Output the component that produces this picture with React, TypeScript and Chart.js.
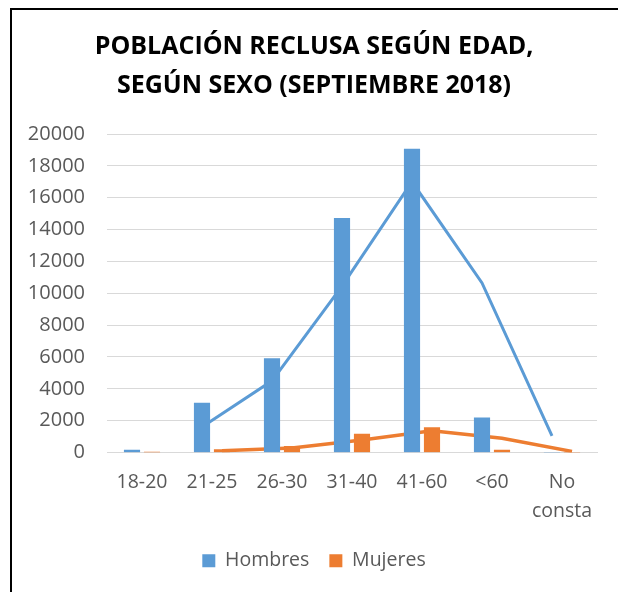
import React, { useEffect, useRef } from "react";
import { Chart, registerables } from "chart.js";

Chart.register(...registerables);

const categories = ["18-20", "21-25", "26-30", "31-40", "41-60", "<60", "No consta"];
const hombres = [150, 3100, 5900, 14700, 19050, 2180, 0];
const mujeres = [20, 180, 380, 1160, 1560, 150, 0];
// trend lines (2-period moving average as drawn in the picture)
const hombresTrend = [null, 1600, 4500, 10450, 17000, 10650, 1050];
const mujeresTrend = [null, 110, 290, 780, 1360, 900, 70];
const yTicksMax = 20000;
const yTickStep = 2000;
const titleLines = ["POBLACIÓN RECLUSA SEGÚN EDAD,", "SEGÚN SEXO (SEPTIEMBRE 2018)"];

const BLUE = "#5b9bd5";
const ORANGE = "#ed7d31";
const GROUP_SHIFT = 1 / 7; // bar centre offset from category centre, in category units
const BAR_THICK = 15.5;

export default function App() {
  const ref = useRef<HTMLCanvasElement | null>(null);

  useEffect(() => {
    document.body.style.overflow = "hidden";
    const toPts = (arr: (number | null)[], shift: number) =>
      arr
        .map((v, i) => (v === null ? null : { x: i + shift, y: v }))
        .filter((p) => p !== null);
    const chart = new Chart(ref.current as HTMLCanvasElement, {
      type: "bar",
      data: {
        labels: categories,
        datasets: [
          {
            type: "bar",
            label: "Hombres",
            data: toPts(hombres, -GROUP_SHIFT),
            backgroundColor: BLUE,
            grouped: false,
            barThickness: BAR_THICK,
            order: 1,
            xAxisID: "xl",
          } as any,
          {
            type: "bar",
            label: "Mujeres",
            data: toPts(mujeres, GROUP_SHIFT),
            backgroundColor: ORANGE,
            grouped: false,
            barThickness: BAR_THICK,
            order: 1,
            xAxisID: "xl",
          } as any,
          {
            type: "line",
            label: "trendH",
            data: toPts(hombresTrend, -GROUP_SHIFT),
            borderColor: BLUE,
            borderWidth: 3,
            pointRadius: 0,
            fill: false,
            tension: 0,
            order: 2,
            xAxisID: "xl",
          } as any,
          {
            type: "line",
            label: "trendM",
            data: toPts(mujeresTrend, GROUP_SHIFT),
            borderColor: ORANGE,
            borderWidth: 3.5,
            pointRadius: 0,
            fill: false,
            tension: 0,
            order: 2,
            xAxisID: "xl",
          } as any,
        ],
      },
      options: {
        responsive: false,
        animation: false,
        layout: { padding: { left: 0, right: 0, top: 0, bottom: 11.5 } },
        plugins: {
          title: {
            display: true,
            text: titleLines,
            color: "#000",
            font: { family: "'Open Sans'", size: 25, weight: "bold", lineHeight: 39 / 25 },
            padding: { top: 17.5, bottom: 28.5 },
          },
          legend: {
            position: "bottom",
            labels: {
              filter: (item: any) => item.text === "Hombres" || item.text === "Mujeres",
              boxWidth: 13,
              boxHeight: 13,
              padding: 20,
              color: "#595959",
              font: { family: "'Open Sans'", size: 19.5 },
            },
          },
          tooltip: { enabled: false },
        },
        scales: {
          x: {
            type: "category",
            offset: true,
            grid: { display: false, drawTicks: false },
            border: { display: true, color: "#d9d9d9", width: 1 },
            ticks: {
              color: "#595959",
              padding: 15.5,
              maxRotation: 0,
              autoSkip: false,
              font: { family: "'Open Sans'", size: 19.5, lineHeight: 1.5 },
              callback: function (this: any, v: any) {
                const s = this.getLabelForValue(v) as string;
                return s.includes(" ") ? s.split(" ") : s;
              },
            },
            afterFit: (s: any) => {
              s.height = 78.5;
            },
          },
          xl: {
            type: "linear",
            display: false,
            offset: false,
            min: -0.5,
            max: categories.length - 0.5,
          },
          y: {
            min: 0,
            max: yTicksMax,
            grid: { color: "#d9d9d9", drawTicks: false, lineWidth: 1 },
            border: { display: false },
            ticks: {
              stepSize: yTickStep,
              color: "#595959",
              padding: 22,
              font: { family: "'Open Sans'", size: 20 },
              callback: (v: any) => String(v),
            },
            afterFit: (s: any) => {
              s.width = 95;
            },
          },
          yr: {
            type: "linear",
            position: "right",
            display: true,
            grid: { display: false, drawTicks: false },
            border: { display: false },
            ticks: { display: false },
            afterFit: (s: any) => {
              s.width = 19;
            },
          },
        },
      } as any,
    });
    return () => chart.destroy();
  }, []);

  return (
    <div style={{ position: "fixed", left: 0, top: 0, width: 618, height: 592, overflow: "hidden", background: "#fff" }}>
      <div
        style={{
          position: "absolute",
          left: 10,
          top: 8,
          width: 1000,
          height: 1000,
          border: "2px solid #000",
          boxSizing: "border-box",
        }}
      />
      <canvas ref={ref} width={604} height={582} style={{ position: "absolute", left: 12, top: 10 }} />
    </div>
  );
}
